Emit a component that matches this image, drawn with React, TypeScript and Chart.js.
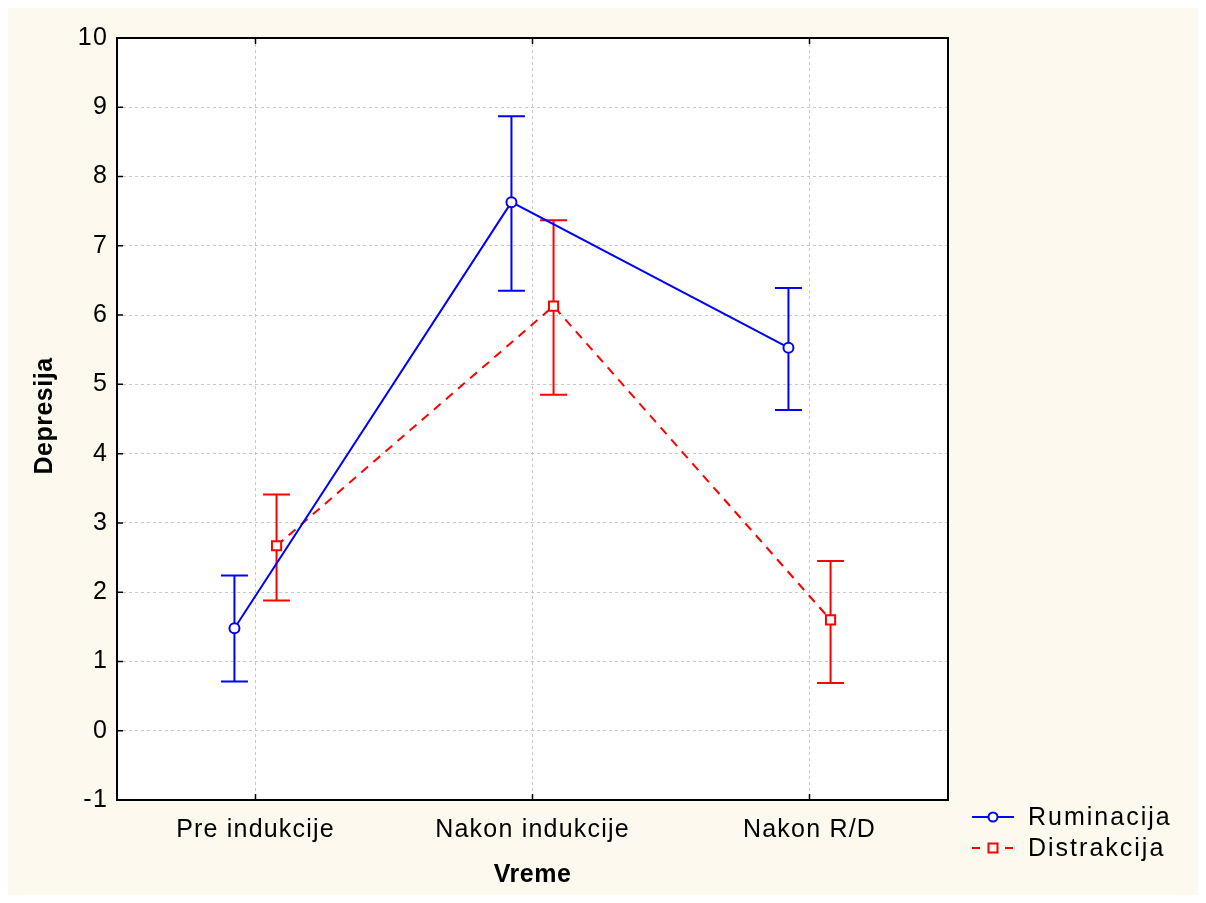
import React, { useEffect, useRef } from "react";
import { Chart, registerables } from "chart.js";

Chart.register(...registerables);

// ---- data ----
const categories = ["Pre indukcije", "Nakon indukcije", "Nakon R/D"];
const yTickValues = [-1, 0, 1, 2, 3, 4, 5, 6, 7, 8, 9, 10];
const seriesNames = ["Ruminacija", "Distrakcija"];
const ruminacijaMean = [1.48, 7.63, 5.53];
const ruminacijaUpper = [2.24, 8.87, 6.39];
const ruminacijaLower = [0.71, 6.35, 4.63];
const distrakcijaMean = [2.67, 6.13, 1.6];
const distrakcijaUpper = [3.41, 7.37, 2.45];
const distrakcijaLower = [1.88, 4.85, 0.69];
const xTitle = "Vreme";
const yTitle = "Depresija";

// ---- style ----
const W = 1190;
const H = 887;
const BG = "#fdf9ef";
const BLUE = "#0000ff";
const RED = "#ff0000";
const OFFSET = 0.076;
const FONT = "'Liberation Sans', Arial, sans-serif";

const seriesDefs = [
  { name: seriesNames[0], mean: ruminacijaMean, upper: ruminacijaUpper, lower: ruminacijaLower, color: BLUE, dx: -OFFSET, dash: [] as number[], style: "circle", radius: 5 },
  { name: seriesNames[1], mean: distrakcijaMean, upper: distrakcijaUpper, lower: distrakcijaLower, color: RED, dx: OFFSET, dash: [9, 7], style: "rect", radius: 6.5 },
];

const framePlugin = {
  id: "framePlugin",
  beforeDraw(chart: any) {
    const { ctx, chartArea } = chart;
    const { left, top, right, bottom } = chartArea;
    ctx.save();
    ctx.fillStyle = BG;
    ctx.fillRect(0, 0, chart.width, chart.height);
    ctx.fillStyle = "#ffffff";
    ctx.fillRect(left, top, right - left, bottom - top);
    ctx.restore();
    (ctx as any).letterSpacing = "1.2px";
  },
  beforeDatasetsDraw(chart: any) {
    const { ctx } = chart;
    const xs = chart.scales.x;
    const ys = chart.scales.y;
    ctx.save();
    (ctx as any).letterSpacing = "0px";
    seriesDefs.forEach((s) => {
      ctx.strokeStyle = s.color;
      ctx.lineWidth = 2;
      ctx.setLineDash([]);
      s.mean.forEach((_, i) => {
        const x = xs.getPixelForValue(i + 0.5 + s.dx);
        const yt = ys.getPixelForValue(s.upper[i]);
        const yb = ys.getPixelForValue(s.lower[i]);
        ctx.beginPath();
        ctx.moveTo(x, yt);
        ctx.lineTo(x, yb);
        ctx.moveTo(x - 13.5, yt);
        ctx.lineTo(x + 13.5, yt);
        ctx.moveTo(x - 13.5, yb);
        ctx.lineTo(x + 13.5, yb);
        ctx.stroke();
      });
    });
    ctx.restore();
  },
  afterDatasetsDraw(chart: any) {
    const { ctx, chartArea } = chart;
    const { left, top, right, bottom } = chartArea;
    const xs = chart.scales.x;
    const ys = chart.scales.y;
    ctx.save();
    ctx.setLineDash([]);
    ctx.strokeStyle = "#000";
    ctx.lineWidth = 2;
    ctx.strokeRect(left, top, right - left, bottom - top);
    ctx.lineWidth = 1.5;
    ctx.beginPath();
    yTickValues.forEach((v) => {
      const y = ys.getPixelForValue(v);
      ctx.moveTo(left, y);
      ctx.lineTo(left + 6, y);
    });
    categories.forEach((_, i) => {
      const x = xs.getPixelForValue(i + 0.5);
      ctx.moveTo(x, bottom);
      ctx.lineTo(x, bottom - 6);
      ctx.moveTo(x, top);
      ctx.lineTo(x, top + 6);
    });
    ctx.stroke();
    ctx.restore();
  },
  afterDraw(chart: any) {
    const { ctx, chartArea } = chart;
    const { left, top, right, bottom } = chartArea;
    ctx.save();
    ctx.fillStyle = "#000";
    (ctx as any).letterSpacing = "0.5px";
    ctx.font = `bold 25px ${FONT}`;
    ctx.textAlign = "center";
    ctx.textBaseline = "middle";
    ctx.fillText(xTitle, (left + right) / 2, 867);
    ctx.save();
    ctx.translate(37, (top + bottom) / 2 - 3);
    ctx.rotate(-Math.PI / 2);
    ctx.fillText(yTitle, 0, 0);
    ctx.restore();

    // legend
    (ctx as any).letterSpacing = "2px";
    ctx.font = `25px ${FONT}`;
    ctx.textAlign = "left";
    const rows = [809, 840];
    seriesDefs.forEach((s, k) => {
      const y = rows[k];
      ctx.strokeStyle = s.color;
      ctx.lineWidth = 2;
      if (s.dash.length) {
        ctx.beginPath();
        ctx.moveTo(964, y);
        ctx.lineTo(972, y);
        ctx.moveTo(997, y);
        ctx.lineTo(1005, y);
        ctx.stroke();
      } else {
        ctx.beginPath();
        ctx.moveTo(964, y);
        ctx.lineTo(1006, y);
        ctx.stroke();
      }
      ctx.fillStyle = "#fff";
      ctx.beginPath();
      if (s.style === "circle") {
        ctx.arc(985, y, 4.5, 0, Math.PI * 2);
      } else {
        ctx.rect(980.5, y - 4.5, 9, 9);
      }
      ctx.fill();
      ctx.stroke();
      ctx.fillStyle = "#000";
      ctx.fillText(s.name, 1020, y + 1);
    });
    ctx.restore();
  },
};

export default function App() {
  const ref = useRef<HTMLCanvasElement>(null);
  useEffect(() => {
    if (!ref.current) return;
    const chart = new Chart(ref.current, {
      type: "line",
      data: {
        datasets: seriesDefs.map((s) => ({
          label: s.name,
          data: s.mean.map((v, i) => ({ x: i + 0.5 + s.dx, y: v })),
          borderColor: s.color,
          borderWidth: 2,
          borderDash: s.dash,
          pointStyle: s.style as any,
          pointRadius: s.radius,
          pointHoverRadius: s.radius,
          pointBackgroundColor: "#ffffff",
          pointBorderColor: s.color,
          pointBorderWidth: 2,
          tension: 0,
          fill: false,
        })),
      },
      options: {
        responsive: false,
        animation: false,
        events: [],
        layout: { padding: { left: 0, top: 30, right: 250, bottom: 0 } },
        plugins: { legend: { display: false }, tooltip: { enabled: false } },
        scales: {
          x: {
            type: "linear",
            min: 0,
            max: 3,
            afterBuildTicks: (scale: any) => {
              scale.ticks = categories.map((_, i) => ({ value: i + 0.5 }));
            },
            afterFit: (scale: any) => {
              scale.height = H - 792;
            },
            ticks: {
              autoSkip: false,
              maxRotation: 0,
              padding: 15,
              color: "#000",
              font: { family: FONT, size: 25 },
              callback: (_v: any, i: number) => categories[i],
            },
            grid: { color: "#c8c8c8", lineWidth: 1, drawTicks: false },
            border: { display: false, dash: [3, 3] },
          },
          y: {
            type: "linear",
            min: -1,
            max: 10,
            afterBuildTicks: (scale: any) => {
              scale.ticks = yTickValues.map((v) => ({ value: v }));
            },
            afterFit: (scale: any) => {
              scale.width = 109;
            },
            ticks: {
              padding: 9,
              color: "#000",
              font: { family: FONT, size: 25 },
              callback: (v: any) => String(v),
            },
            grid: { color: "#c8c8c8", lineWidth: 1, drawTicks: false },
            border: { display: false, dash: [3, 3] },
          },
        },
      },
      plugins: [framePlugin],
    });
    return () => chart.destroy();
  }, []);
  return (
    <div style={{ width: W, height: H, background: BG }}>
      <canvas ref={ref} width={W} height={H} style={{ display: "block", width: W, height: H }} />
    </div>
  );
}
